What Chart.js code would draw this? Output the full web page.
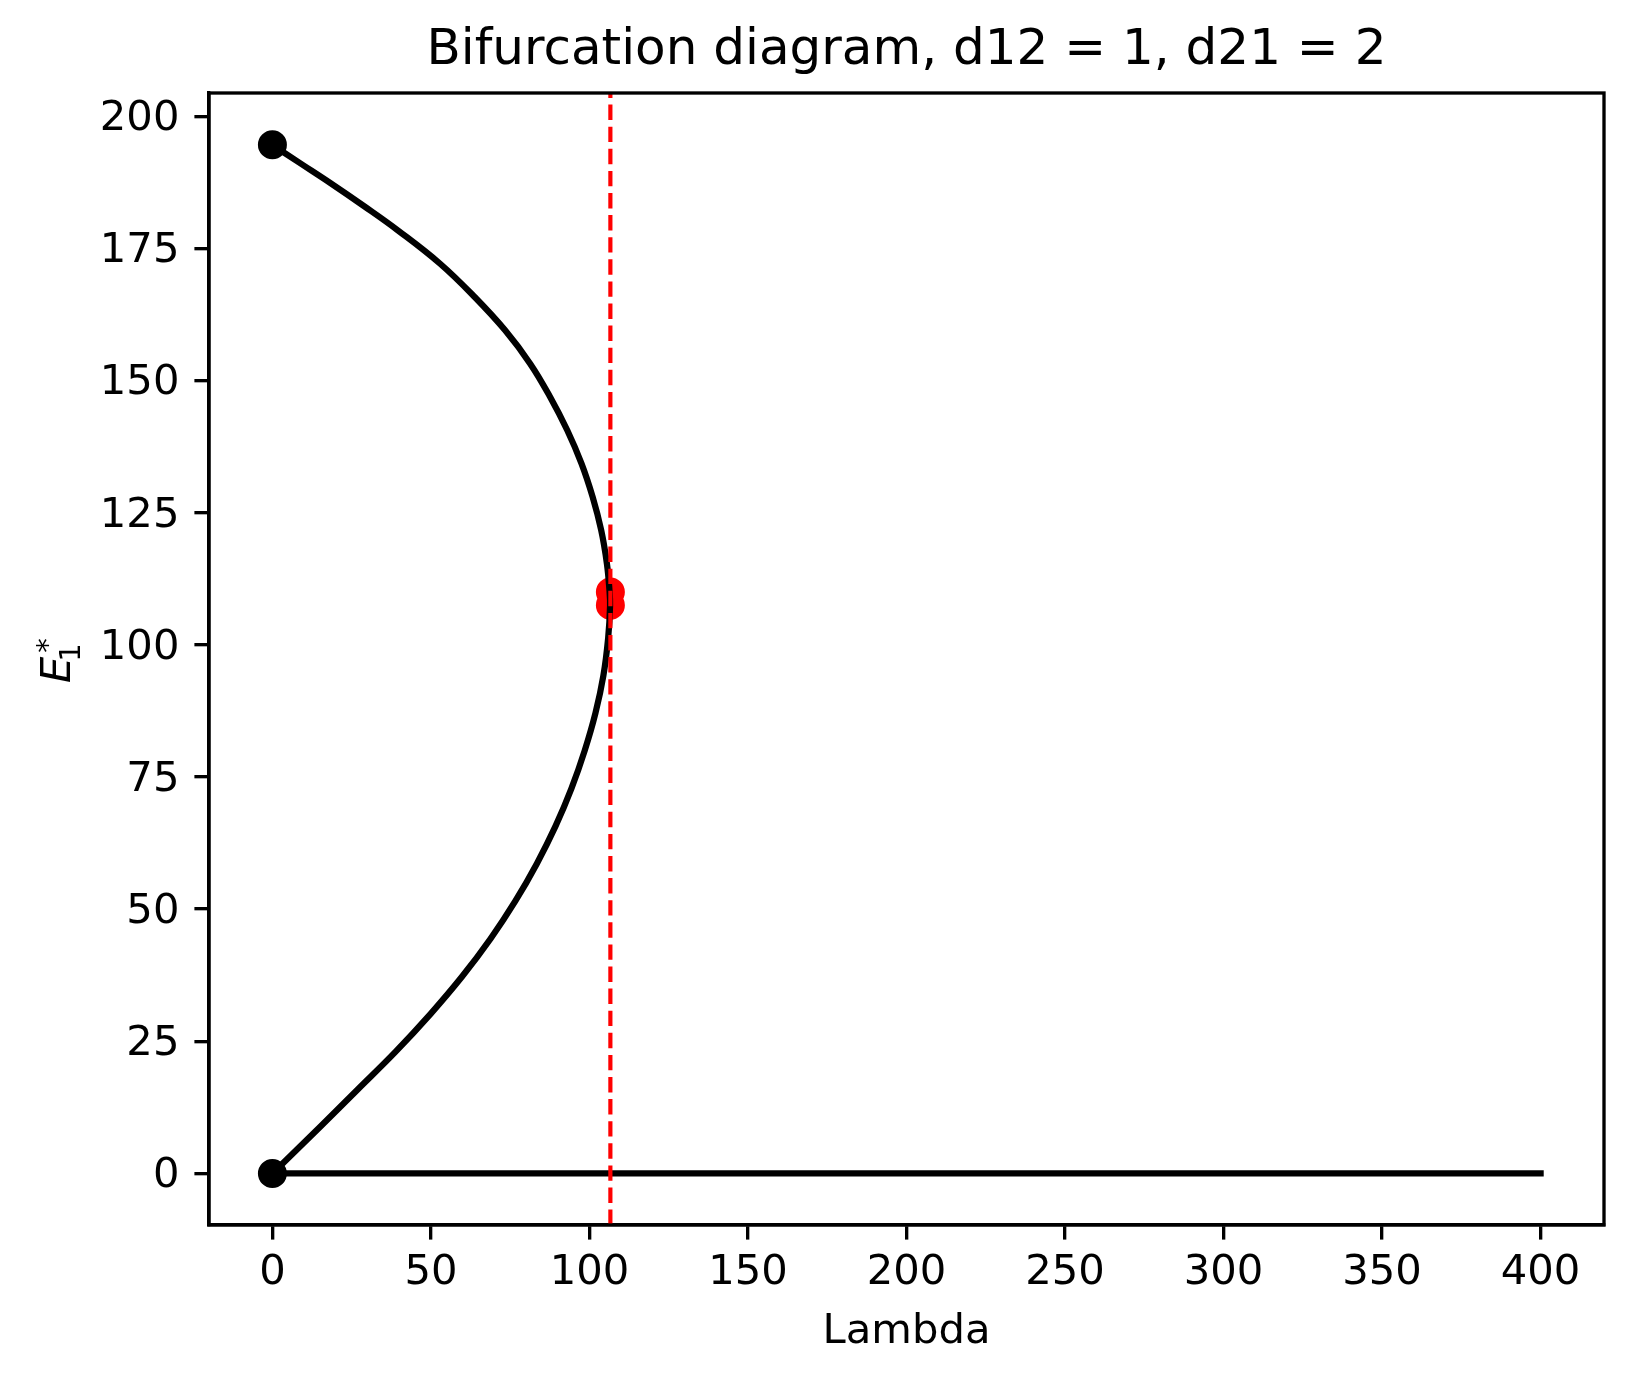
<!DOCTYPE html>
<html>
<head>
<meta charset="utf-8">
<title>Bifurcation diagram</title>
<script src="https://cdn.jsdelivr.net/npm/chart.js@4"></script>
<style>
    html, body { margin: 0; padding: 0; background: #ffffff; }
    canvas { display: block; }
</style>
</head>
<body>
<canvas id="bifurcationChart" width="1634" height="1385"></canvas>
<script>
// Equilibrium branch E1* as a function of Lambda
const curveLambda = [0, 15.0, 26.9, 38.8, 49.9, 59.9, 68.8, 76.6, 83.4, 89.3, 94.3, 98.5, 101.9, 104.4, 105.9, 106.5,
    106.3, 105.5, 103.7, 101.0, 97.5, 93.0, 87.6, 81.3, 73.4, 63.8, 52.9, 39.6, 28.9, 18.2, 8.3, 0];
const curveE = [0, 8.8, 15.9, 23.0, 30.2, 37.3, 44.4, 51.5, 58.6, 65.7, 72.8, 80.0, 87.1, 94.2, 101.3, 107.4,
    110.4, 115.4, 121.7, 128.0, 134.3, 140.6, 146.9, 153.2, 159.5, 165.8, 172.1, 178.4, 183.0, 187.4, 191.3, 194.6];

// Trivial equilibrium E1* = 0
const zeroLambda = [0, 400];
const zeroE = [0, 0];

// End points of the branch at Lambda = 0
const endLambda = [0, 0];
const endE = [0, 194.6];

// Fold points
const foldLambda = [106.6, 106.6];
const foldE = [110.0, 107.5];

// Critical Lambda (dashed line)
const critLambda = 106.6;

const xTicks = [0, 50, 100, 150, 200, 250, 300, 350, 400];
const yTicks = [0, 25, 50, 75, 100, 125, 150, 175, 200];

const xMin = -20, xMax = 420;
const yMin = -9.75, yMax = 204.4;

function toPoints(xs, ys) {
    return xs.map((x, i) => ({ x: x, y: ys[i] }));
}

document.addEventListener('DOMContentLoaded', function() {
    const ctx = document.getElementById('bifurcationChart');
    const fontFamily = "'DejaVu Sans', 'Liberation Sans', sans-serif";
    const tickFont = { family: fontFamily, size: 41.7 };

    // Draws the box around the plot, like matplotlib spines
    const framePlugin = {
        id: 'frame',
        afterDatasetsDraw(chart) {
            const a = chart.chartArea;
            const c = chart.ctx;
            c.save();
            c.strokeStyle = '#000000';
            c.lineWidth = 3.33;
            c.strokeRect(a.left, a.top, a.right - a.left, a.bottom - a.top);
            c.restore();
        }
    };

    // y label E1* with subscript and superscript
    const yLabelPlugin = {
        id: 'yLabel',
        afterDraw(chart) {
            const a = chart.chartArea;
            const c = chart.ctx;
            const mid = (a.top + a.bottom) / 2;
            c.save();
            c.fillStyle = '#000000';
            c.textBaseline = 'alphabetic';
            c.textAlign = 'left';
            c.translate(70, mid + 24);
            c.rotate(-Math.PI / 2);
            c.font = 'italic 41.7px ' + fontFamily;
            c.fillText('E', 0, 0);
            const w = c.measureText('E').width;
            c.font = '29px ' + fontFamily;
            c.fillText('1', w - 5, 10);
            c.fillText('*', w + 4, -13);
            c.restore();
        }
    };

    new Chart(ctx, {
        type: 'scatter',
        data: {
            datasets: [
                {
                    // dashed critical line
                    data: [{ x: critLambda, y: yMin }, { x: critLambda, y: yMax }],
                    showLine: true,
                    borderColor: '#ff0000',
                    borderWidth: 4.17,
                    borderDash: [15.4, 6.7],
                    pointRadius: 0,
                    order: 0
                },
                {
                    data: toPoints(endLambda, endE),
                    showLine: false,
                    backgroundColor: '#000000',
                    borderColor: '#000000',
                    borderWidth: 4,
                    pointRadius: 12.5,
                    order: 1
                },
                {
                    data: toPoints(curveLambda, curveE),
                    showLine: true,
                    borderColor: '#000000',
                    borderWidth: 6.25,
                    borderCapStyle: 'square',
                    borderJoinStyle: 'round',
                    tension: 0.4,
                    pointRadius: 0,
                    order: 2
                },
                {
                    data: toPoints(zeroLambda, zeroE),
                    showLine: true,
                    borderColor: '#000000',
                    borderWidth: 6.25,
                    borderCapStyle: 'square',
                    pointRadius: 0,
                    order: 2
                },
                {
                    data: toPoints(foldLambda, foldE),
                    showLine: false,
                    backgroundColor: '#ff0000',
                    borderColor: '#ff0000',
                    borderWidth: 4,
                    pointRadius: 12.5,
                    order: 3
                }
            ]
        },
        options: {
            responsive: false,
            animation: false,
            devicePixelRatio: 1,
            layout: {
                padding: { left: 0, right: 30, top: 0, bottom: 0 }
            },
            plugins: {
                legend: { display: false },
                tooltip: { enabled: false },
                title: {
                    display: true,
                    fullSize: false,
                    text: 'Bifurcation diagram, d12 = 1, d21 = 2',
                    color: '#000000',
                    font: { family: fontFamily, size: 50, weight: 'normal' },
                    padding: { top: 21, bottom: 12 }
                }
            },
            scales: {
                x: {
                    type: 'linear',
                    min: xMin,
                    max: xMax,
                    afterBuildTicks: function(scale) {
                        scale.ticks = xTicks.map(v => ({ value: v }));
                    },
                    afterFit: function(scale) {
                        scale.height = 160;
                    },
                    grid: {
                        drawOnChartArea: false,
                        drawTicks: true,
                        tickLength: 14.6,
                        color: '#000000',
                        lineWidth: 3.33
                    },
                    border: { display: true, color: '#000000', width: 3.33 },
                    ticks: {
                        color: '#000000',
                        font: tickFont,
                        padding: 9,
                        maxRotation: 0,
                        autoSkip: false
                    },
                    title: {
                        display: true,
                        text: 'Lambda',
                        color: '#000000',
                        font: tickFont,
                        padding: { top: 0, bottom: 27.7 }
                    }
                },
                y: {
                    type: 'linear',
                    min: yMin,
                    max: yMax,
                    afterBuildTicks: function(scale) {
                        scale.ticks = yTicks.map(v => ({ value: v }));
                    },
                    afterFit: function(scale) {
                        scale.width = 209;
                    },
                    grid: {
                        drawOnChartArea: false,
                        drawTicks: true,
                        tickLength: 14.6,
                        color: '#000000',
                        lineWidth: 3.33
                    },
                    border: { display: true, color: '#000000', width: 3.33 },
                    ticks: {
                        color: '#000000',
                        font: tickFont,
                        padding: 15,
                        labelOffset: 3,
                        autoSkip: false
                    }
                }
            }
        },
        plugins: [framePlugin, yLabelPlugin]
    });
});
</script>
</body>
</html>
